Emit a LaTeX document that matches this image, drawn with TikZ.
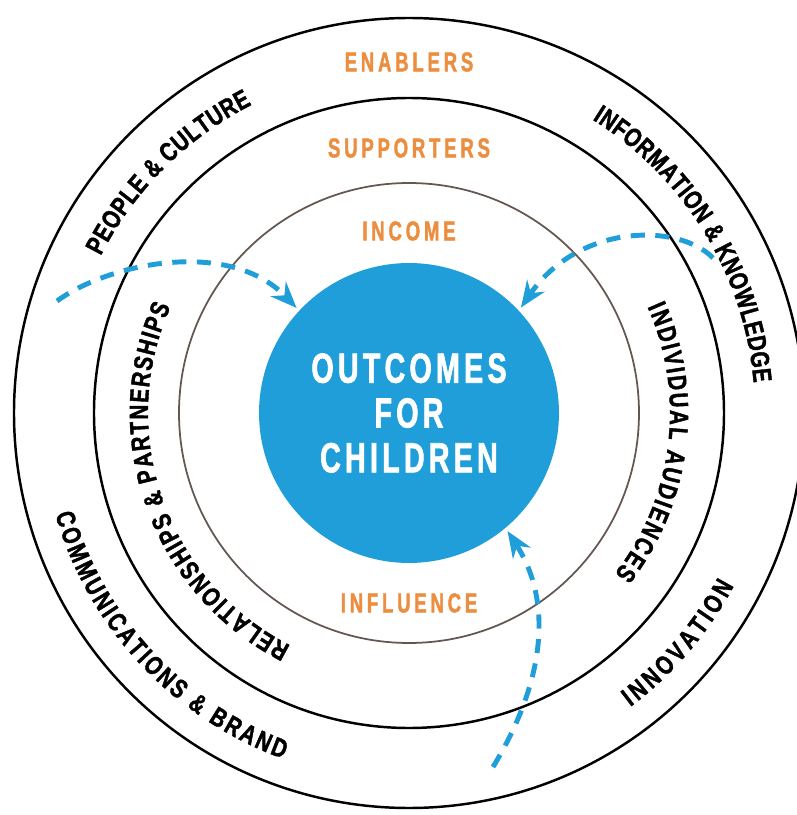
\documentclass[tikz,border=0pt]{standalone}
\usepackage{fontspec}
\usetikzlibrary{arrows.meta,decorations.text}
\definecolor{tierorange}{RGB}{236,142,64}
\definecolor{hubblue}{RGB}{32,158,218}
\definecolor{innerline}{RGB}{100,86,80}
\newfontfamily\tierfont[FakeStretch=0.68,LetterSpace=14,FakeBold=1.5]{Liberation Sans Bold}
\newfontfamily\ringfont[FakeStretch=0.78,FakeBold=1.5]{Liberation Sans Bold}
\newfontfamily\hubfont[FakeStretch=0.68,LetterSpace=10,FakeBold=1.5]{Liberation Sans Bold}
\newcommand{\tiertext}{\tierfont\fontsize{15.5}{18}\selectfont}
\newcommand{\ringtext}{\ringfont\fontsize{15}{17}\selectfont}
\newcommand{\hubtext}{\hubfont\fontsize{24}{25.5}\selectfont}
\begin{document}
\begin{tikzpicture}[
		x=0.02cm, y=0.02cm,
		declare function = {
				RO = 395;
				RM = 315;
				RI = 230;
				BI = 346;
				BO = 368;
				BM = 261;
			},
		ring/.style = {draw, line width=1.4pt},
		tier/.style = {text=tierorange, font=\tiertext, inner sep=0pt},
		flow/.style = {draw=hubblue, line width=2.8pt, dash pattern=on 8pt off 6pt,
				-{Stealth[inset=5pt,length=15pt,width=12pt]}, shorten >=2pt},
		curved/.style = {decorate, decoration={text along path, text align={fit to path}, text={|\ringtext|#1}}},
	]
	\path[use as bounding box] (-409,-402) rectangle (387,413);
	\draw[ring] (0,0) circle[radius=RO];
	\draw[ring] (0,0) circle[radius=RM];
	\draw[ring, draw=innerline, line width=1pt] (0,0) circle[radius=RI];
	\node[circle, fill=hubblue, minimum size=6cm, inner sep=0pt, text=white, font=\hubtext, align=center] (hub) at (0,0) {OUTCOMES\\FOR\\CHILDREN};
	\node[tier] (enablers) at (0,351) {ENABLERS};
	\node[tier] (supporters) at (0,265) {SUPPORTERS};
	\node[tier] (income) at (0,182) {INCOME};
	\node[tier] (influence) at (0,-190) {INFLUENCE};
	\path[curved={PEOPLE {\&} CULTURE}] (153:BI) arc[start angle=153, end angle=117, radius=BI];
	\path[curved={INFORMATION {\&} KNOWLEDGE}] (58:BI) arc[start angle=58, end angle=5, radius=BI];
	\path[curved={COMMUNICATIONS {\&} BRAND}] (196:BO) arc[start angle=196, end angle=250, radius=BO];
	\path[curved={INNOVATION}] (-53:BO) arc[start angle=-53, end angle=-28, radius=BO];
	\path[curved={RELATIONSHIPS {\&} PARTNERSHIPS}] (243:BM) arc[start angle=243, end angle=156, radius=BM];
	\path[curved={INDIVIDUAL AUDIENCES}] (24:BM) arc[start angle=24, end angle=-38, radius=BM];
	\coordinate (peoplein) at (-352,112);
	\coordinate (knowin) at (304,155);
	\coordinate (innovin) at (84,-354);
	\draw[flow] (peoplein) .. controls (-300,150) and (-180,175) .. (hub.137);
	\draw[flow] (knowin) .. controls (270,190) and (170,190) .. (hub.43);
	\draw[flow] (innovin) .. controls (135,-270) and (145,-190) .. (hub.-50);
\end{tikzpicture}
\end{document}
